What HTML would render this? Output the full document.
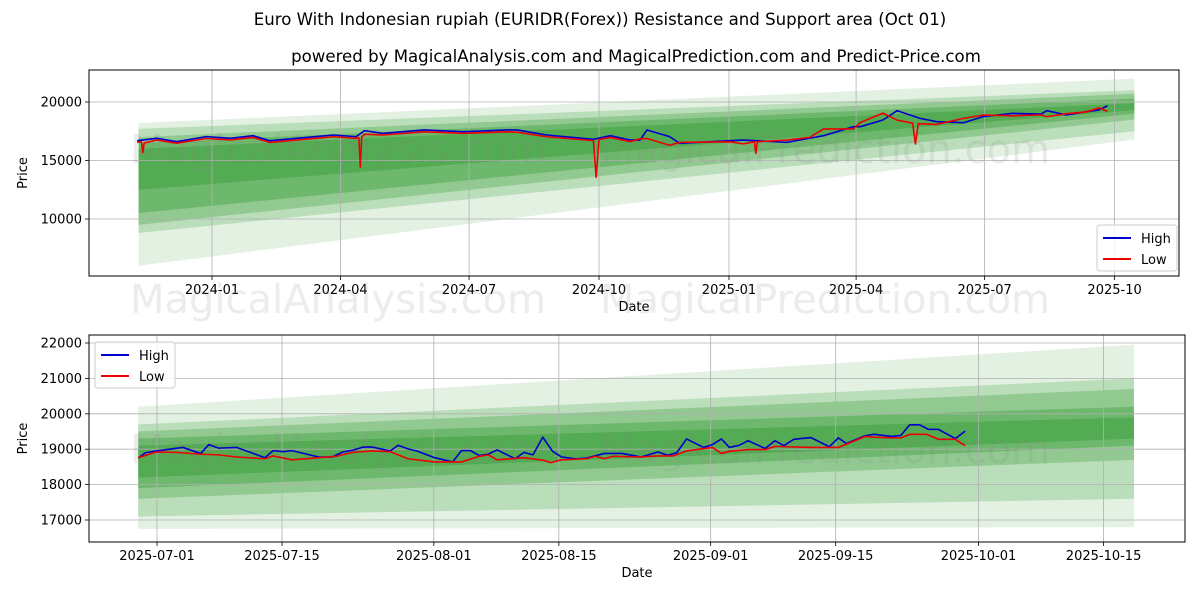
<!DOCTYPE html>
<html><head><meta charset="utf-8"><style>
body{margin:0;background:#fff;}
svg{display:block;font-family:"DejaVu Sans","Liberation Sans",sans-serif;}
</style></head><body>
<svg id="c" width="1200" height="600" xmlns="http://www.w3.org/2000/svg">
<text x="600" y="25" text-anchor="middle" font-size="16.6" fill="#000">Euro With Indonesian rupiah (EURIDR(Forex)) Resistance and Support area (Oct 01)</text>
<text x="636" y="62" text-anchor="middle" font-size="16.6" fill="#000">powered by MagicalAnalysis.com and MagicalPrediction.com and Predict-Price.com</text>
</svg>
<script>
// ---------- TOP CHART DATA (day offsets from 2024-01-01) ----------
const topHighDays=[-53,-39,-25,-4,13,29,41,65,86,102,108,121,150,178,209,216,237,270,282,296,303,308,324,331,367,376,407,423,433,454,459,475,485,501,513,532,546,567,587,591,605,619,628,634];
const topHighVals=[16690,16900,16610,17040,16900,17120,16690,16950,17180,17040,17550,17320,17610,17460,17610,17610,17180,16810,17120,16750,16750,17610,17040,16470,16690,16750,16550,16900,17120,17890,17890,18460,19260,18610,18320,18230,18750,19030,18970,19260,18890,19170,19320,19680];
const topLowDays=[-53,-50,-49,-48,-39,-25,-4,13,29,41,65,86,102,104,105,106,108,121,150,178,209,216,237,270,272,274,282,296,303,308,324,331,367,376,384,385,386,407,423,433,454,459,475,485,496,498,500,513,532,546,567,587,591,605,619,628,634];
const topLowVals=[16550,16600,15670,16500,16750,16480,16880,16760,16970,16540,16800,17030,16900,16950,14420,17000,17250,17180,17450,17320,17450,17420,17030,16700,13560,16800,16970,16620,16850,16880,16300,16550,16600,16420,16600,15610,16600,16750,16970,17700,17700,18250,19050,18450,18200,16410,18150,18080,18600,18880,18820,18900,18740,19000,19150,19500,19200];
const topBandLowStart=[6000,8800,9500,10500,12500];
const topBandHighStart=[18200,17700,17000,16500,16000];
const topBandLowEnd=[16800,17500,18500,19000,19300];
const topBandHighEnd=[22000,21000,20700,20300,19900];
const topYTicks=[10000,15000,20000];
const topXTickLabels=["2024-01","2024-04","2024-07","2024-10","2025-01","2025-04","2025-07","2025-10"];
const topXTickDays=[0,91,182,274,366,456,547,639];

// ---------- BOTTOM CHART DATA (day offsets from 2025-07-01) ----------
const botHighDays=[-2.1,-1.3,-0.1,2.9,4.9,5.8,6.9,8.9,12.1,13,14.1,15.1,18.1,19.6,20.8,21.9,23.1,24.1,26.1,27,28.1,29.1,31.1,33.1,34.1,35.1,36.1,37.1,38.1,40.1,41.1,42.1,43.2,44.3,45.3,46.9,48.1,50.1,52.1,54.2,56.1,57.2,58.2,59.3,61.2,62.2,63.2,64.1,65.2,66.2,68.1,69.2,70.2,71.3,73.2,75.3,76.3,77.2,79.3,80.3,82.4,83.3,84.3,85.4,86.4,87.5,89.4,90.5];
const botHighVals=[18750,18900,18950,19050,18880,19130,19030,19050,18760,18960,18930,18960,18780,18780,18920,18970,19060,19060,18950,19110,19010,18950,18760,18640,18960,18960,18820,18860,18980,18730,18910,18840,19340,18940,18780,18730,18750,18880,18880,18780,18920,18830,18900,19290,19050,19130,19290,19050,19110,19240,19020,19240,19100,19280,19330,19070,19320,19160,19380,19420,19360,19390,19690,19690,19560,19560,19300,19510];
const botLowDays=[-2.1,-0.1,2.1,4.9,6.9,8.9,12.1,13,15.1,18.1,20.1,21.9,24.1,26.1,28.1,31.1,34.1,36.1,37.1,38.1,41.1,43.2,44.1,45.3,48.1,49.1,50.1,51.1,54.1,56.1,57.8,59.3,62.2,63.2,64.1,66.2,68.1,69.2,73.2,76.3,77.4,79.3,80.3,82.4,83.3,84.3,86.2,87.5,89.4,90.5];
const botLowVals=[18760,18920,18910,18860,18840,18780,18730,18810,18700,18760,18800,18910,18950,18930,18730,18640,18640,18800,18840,18700,18760,18690,18620,18700,18730,18800,18730,18800,18780,18810,18810,18950,19050,18880,18940,18990,18990,19080,19050,19050,19160,19360,19340,19320,19320,19420,19420,19280,19280,19100];
const botBandLowStart=[16750,17100,17600,17900,18200];
const botBandHighStart=[20200,19700,19500,19300,19100];
const botBandLowEnd=[16800,17600,18700,19100,19300];
const botBandHighEnd=[21950,21000,20700,20200,19900];
const botYTicks=[17000,18000,19000,20000,21000,22000];
const botXTickLabels=["2025-07-01","2025-07-15","2025-08-01","2025-08-15","2025-09-01","2025-09-15","2025-10-01","2025-10-15"];
const botXTickDays=[0,14,31,45,62,76,92,106];

const NS="http://www.w3.org/2000/svg";
const svg=document.getElementById('c');
function mk(tag,attrs,parent){const e=document.createElementNS(NS,tag);for(const k in attrs)e.setAttribute(k,attrs[k]);(parent||svg).appendChild(e);return e;}
const bandAlpha=[0.13,0.22,0.28,0.33,0.38];

function drawChart(o){
  const g=mk('g',{});
  
  
  const X=d=>o.x0+(d-o.d0)*o.pxPerDay;
  const Y=v=>o.y0+(o.v0-v)*o.pxPerVal;
  for(let i=0;i<o.bls.length;i++){
    const xa=X(o.bandD0),xb=X(o.bandD1);
    const p=mk('polygon',{points:`${xa},${Y(o.bhs[i])} ${xb},${Y(o.bhe[i])} ${xb},${Y(o.ble[i])} ${xa},${Y(o.bls[i])}`,fill:'rgb(40,150,40)','fill-opacity':bandAlpha[i]},g);
    
    
  }
  o.xtd.forEach((d,i)=>{
    const x=X(d);
    const l=mk('line',{x1:x,x2:x,y1:o.top,y2:o.bottom,stroke:'#b0b0b0','stroke-width':0.8},g);
    
    
    mk('line',{x1:x,x2:x,y1:o.bottom,y2:o.bottom+4,stroke:'#000','stroke-width':0.8},g);
    const t=mk('text',{x:x,y:o.bottom+18,'text-anchor':'middle','font-size':13,fill:'#000'},g);
    t.textContent=o.xtl[i];
    
    
  });
  o.yt.forEach(v=>{
    const y=Y(v);
    const l=mk('line',{x1:o.left,x2:o.right,y1:y,y2:y,stroke:'#b0b0b0','stroke-width':0.8},g);
    
    
    mk('line',{x1:o.left-4,x2:o.left,y1:y,y2:y,stroke:'#000','stroke-width':0.8},g);
    const t=mk('text',{x:o.left-7,y:y+4.5,'text-anchor':'end','font-size':13,fill:'#000'},g);
    t.textContent=v;
    
    
  });
  o.wm.forEach(w=>{
    const t=mk('text',{x:w[0],y:w[1],'font-size':40,fill:'#888','fill-opacity':0.16},g);
    t.textContent=w[2];
    
    
  });
  const hp=o.hd.map((d,i)=>X(d)+','+Y(o.hv[i])).join(' ');
  const lp=o.ld.map((d,i)=>X(d)+','+Y(o.lv[i])).join(' ');
  const hl=mk('polyline',{points:hp,fill:'none',stroke:'#0000cc','stroke-width':1.6,'stroke-linejoin':'round'},g);
  
  
  const ll=mk('polyline',{points:lp,fill:'none',stroke:'#ee0000','stroke-width':1.6,'stroke-linejoin':'round'},g);
  
  
  const fr=mk('rect',{x:o.left,y:o.top,width:o.right-o.left,height:o.bottom-o.top,fill:'none',stroke:'#000','stroke-width':1},g);
  
  
  const xt=mk('text',{x:(o.left+o.right)/2,y:o.bottom+35,'text-anchor':'middle','font-size':13,fill:'#000'},g);
  xt.textContent='Date';
  
  
  const cy=(o.top+o.bottom)/2;
  const yt=mk('text',{x:27,y:cy,'text-anchor':'middle','font-size':13,fill:'#000',transform:`rotate(-90 27 ${cy})`},g);
  yt.textContent='Price';
  
  
  const lg=mk('g',{},g);
  
  
  const [lx,ly]=o.leg;
  mk('rect',{x:lx,y:ly,width:80,height:46,rx:3,fill:'#fff','fill-opacity':0.85,stroke:'#ccc'},lg);
  [['High','#0000cc'],['Low','#ee0000']].forEach((e,i)=>{
    const yy=ly+13+i*21;
    mk('line',{x1:lx+6,x2:lx+34,y1:yy,y2:yy,stroke:e[1],'stroke-width':2},lg);
    const t=mk('text',{x:lx+44,y:yy+5,'font-size':13,fill:'#000'},lg);
    t.textContent=e[0];
    
    
  });
}

drawChart({name:'top-chart',left:89,right:1179,top:70,bottom:276,
  x0:212,d0:0,pxPerDay:1.4125,y0:102,v0:20000,pxPerVal:0.0117,
  bandD0:-52,bandD1:653,bls:topBandLowStart,bhs:topBandHighStart,ble:topBandLowEnd,bhe:topBandHighEnd,
  hd:topHighDays,hv:topHighVals,ld:topLowDays,lv:topLowVals,
  yt:topYTicks,xtd:topXTickDays,xtl:topXTickLabels,leg:[1097,225],
  wm:[[130,163,'MagicalAnalysis.com'],[600,163,'MagicalPrediction.com'],[130,313,'MagicalAnalysis.com'],[600,313,'MagicalPrediction.com']]});

drawChart({name:'bottom-chart',left:89,right:1185,top:335,bottom:542,
  x0:157,d0:0,pxPerDay:8.93,y0:343,v0:22000,pxPerVal:0.0354,
  bandD0:-2.1,bandD1:109.4,bls:botBandLowStart,bhs:botBandHighStart,ble:botBandLowEnd,bhe:botBandHighEnd,
  hd:botHighDays,hv:botHighVals,ld:botLowDays,lv:botLowVals,
  yt:botYTicks,xtd:botXTickDays,xtl:botXTickLabels,leg:[95,342],
  wm:[[130,463,'MagicalAnalysis.com'],[600,463,'MagicalPrediction.com']]});
</script>
</body></html>
